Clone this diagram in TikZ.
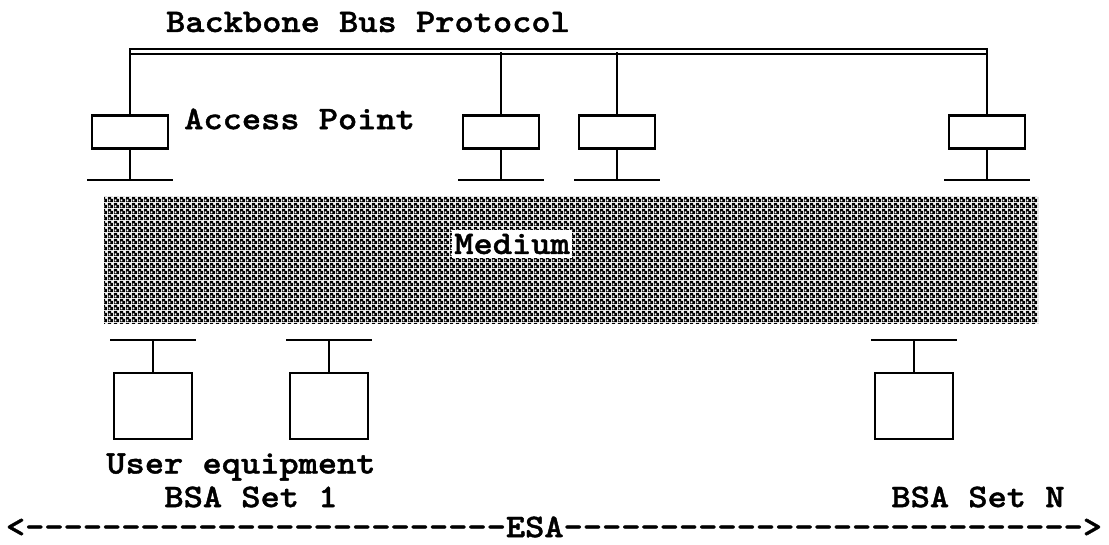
\documentclass[tikz,border=0pt]{standalone}
\usepackage{fontspec}
\setmonofont{Latin Modern Mono Light}[FakeStretch=1.11,
  BoldFeatures={FakeBold=1.2}]
\usetikzlibrary{positioning, patterns.meta}

\tikzdeclarepattern{
  name=mediumdots,
  type=uncolored,
  bottom left={(0pt,0pt)},
  top right={(6pt,6pt)},
  tile size={(6pt,6pt)},
  code={
    \fill[even odd rule] (0pt,0pt) rectangle (6pt,6pt)
      (0.6pt,0.6pt) rectangle (2.9pt,2.9pt)
      (3.6pt,3.6pt) rectangle (5.9pt,5.9pt);
  }
}

\begin{document}
\begin{tikzpicture}[
  x=1pt, y=-1pt,
  line width=2.4pt,
  txt/.style={font=\ttfamily\bfseries\fontsize{33}{36}\selectfont,
    inner sep=0pt},
  apbox/.style={rectangle, draw,
    minimum width=76pt, minimum height=33pt, inner sep=0pt},
  uebox/.style={rectangle, draw,
    minimum width=78pt, minimum height=66pt, inner sep=0pt},
  bus/.style={double, double distance=2.8pt, line width=2.3pt},
  medium/.style={rectangle, fill=white, pattern=mediumdots,
    pattern color=black,
    minimum width=934pt, minimum height=127pt, inner sep=0pt}
]
  \useasboundingbox (0,0) rectangle (1109,544);

  % backbone
  \node[txt] (title) at (368,22) {Backbone Bus Protocol};
  \coordinate (busl) at (130,51.5);
  \coordinate (busr) at (987,51.5);
  \draw[bus] (busl) -- (busr);

  % access points
  \node[apbox] (ap1) at (130,132) {};
  \node[apbox] (ap2) at (501,132) {};
  \node[apbox] (ap3) at (617,132) {};
  \node[apbox] (ap4) at (987,132) {};
  \node[txt, anchor=west] (aplbl) at (183,119) {Access Point};

  \coordinate (b1) at (130,48);
  \coordinate (b2) at (501,52);
  \coordinate (b3) at (617,52);
  \coordinate (b4) at (987,48);
  \draw (b1) -- (ap1.north);
  \draw (b2) -- (ap2.north);
  \draw (b3) -- (ap3.north);
  \draw (b4) -- (ap4.north);

  \coordinate (g1) at (130,180);
  \coordinate (g2) at (501,180);
  \coordinate (g3) at (617,180);
  \coordinate (g4) at (987,180);
  \draw (ap1.south) -- (g1) ([xshift=-43pt]g1) -- ([xshift=43pt]g1);
  \draw (ap2.south) -- (g2) ([xshift=-43pt]g2) -- ([xshift=43pt]g2);
  \draw (ap3.south) -- (g3) ([xshift=-43pt]g3) -- ([xshift=43pt]g3);
  \draw (ap4.south) -- (g4) ([xshift=-43pt]g4) -- ([xshift=43pt]g4);

  % medium
  \node[medium] (medium) at (571,259.5) {};
  \node[txt, fill=white, inner xsep=2pt, inner ysep=4pt]
    (medlbl) at (512,244) {Medium};

  % user equipment
  \node[uebox] (ue1) at (153,406) {};
  \node[uebox] (ue2) at (329,406) {};
  \node[uebox] (ue3) at (914,406) {};

  \coordinate (t1) at (153,340);
  \coordinate (t2) at (329,340);
  \coordinate (t3) at (914,340);
  \draw (ue1.north) -- (t1) ([xshift=-43pt]t1) -- ([xshift=43pt]t1);
  \draw (ue2.north) -- (t2) ([xshift=-43pt]t2) -- ([xshift=43pt]t2);
  \draw (ue3.north) -- (t3) ([xshift=-43pt]t3) -- ([xshift=43pt]t3);

  \node[txt] (uelbl) at (241,467) {User equipment};
  \node[txt] (set1) at (251,497) {BSA Set 1};
  \node[txt] (setn) at (978,497) {BSA Set N};
  \node[txt] (esa) at (554,527)
    {<-------------------------ESA--------------------------->};
\end{tikzpicture}
\end{document}
